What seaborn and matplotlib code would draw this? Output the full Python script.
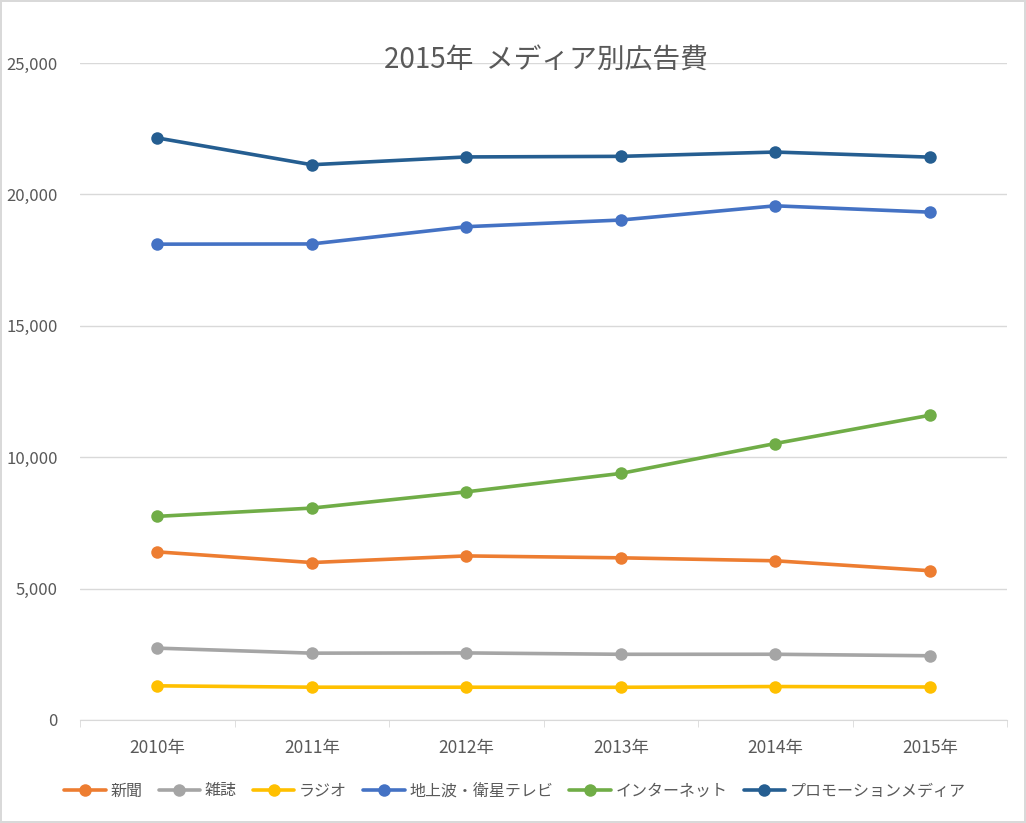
import pandas as pd
import numpy as np
import seaborn as sns
import matplotlib.pyplot as plt
from matplotlib.ticker import FuncFormatter, FixedLocator

years = ['2010年', '2011年', '2012年', '2013年', '2014年', '2015年']
media = ['新聞', '雑誌', 'ラジオ', '地上波・衛星テレビ', 'インターネット', 'プロモーションメディア']
shinbun = [6396, 5990, 6242, 6170, 6057, 5679]
zasshi = [2733, 2542, 2551, 2499, 2500, 2443]
radio = [1299, 1247, 1246, 1243, 1272, 1254]
tv = [18105, 18113, 18770, 19023, 19564, 19323]
net = [7747, 8062, 8680, 9381, 10519, 11594]
promo = [22147, 21127, 21424, 21446, 21610, 21417]
colors = ['#ED7D31', '#A5A5A5', '#FFC000', '#4472C4', '#70AD47', '#255E91']

df = pd.DataFrame({'year': years * 6,
                   'media': np.repeat(media, 6),
                   'value': shinbun + zasshi + radio + tv + net + promo})
df['x'] = df['year'].map({y: i for i, y in enumerate(years)})

sns.set_style('white')
plt.rcParams['font.family'] = ['Noto Sans CJK JP', 'DejaVu Sans']

fig = plt.figure(figsize=(10.26, 8.23), dpi=100, edgecolor='#D9D9D9', linewidth=1.5)
ax = fig.add_axes([0.078, 0.1252, 0.9035, 0.7983])

sns.lineplot(data=df, x='x', y='value', hue='media', hue_order=media,
             palette=colors, marker='o', markersize=9, markeredgewidth=0,
             linewidth=2.6, ax=ax, legend=True)

ax.set_xlim(-0.5, 5.5)
ax.set_ylim(0, 25000)
ax.set_yticks(range(0, 25001, 5000))
ax.yaxis.set_major_formatter(FuncFormatter(lambda v, p: f'{int(v):,}'))
ax.set_xticks(range(6))
ax.set_xticklabels(years)
ax.xaxis.set_minor_locator(FixedLocator(np.arange(-0.5, 6, 1)))
ax.grid(axis='y', color='#D9D9D9', linewidth=1)
ax.set_axisbelow(True)
for s in ['left', 'right', 'top']:
    ax.spines[s].set_visible(False)
ax.spines['bottom'].set_color('#D9D9D9')
ax.tick_params(axis='x', which='major', length=0, pad=14, labelsize=12.5, labelcolor='#595959')
ax.tick_params(axis='x', which='minor', length=5, color='#D9D9D9', direction='out', bottom=True)
ax.tick_params(axis='y', length=0, pad=16, labelsize=12, labelcolor='#595959')
ax.set_xlabel('')
ax.set_ylabel('')

fig.text(0.532, 0.927, '2015年  メディア別広告費', ha='center', va='center',
         fontsize=20, color='#595959')

handles, labels = ax.get_legend_handles_labels()
ax.legend_.remove()
fig.legend(handles, labels, loc='center', bbox_to_anchor=(0.502, 0.039), ncol=6,
           frameon=False, fontsize=11.5, labelcolor='#595959', handlelength=2.6,
           handletextpad=0.3, columnspacing=1.0)

fig.savefig('out.png', dpi=100, edgecolor=fig.get_edgecolor())
